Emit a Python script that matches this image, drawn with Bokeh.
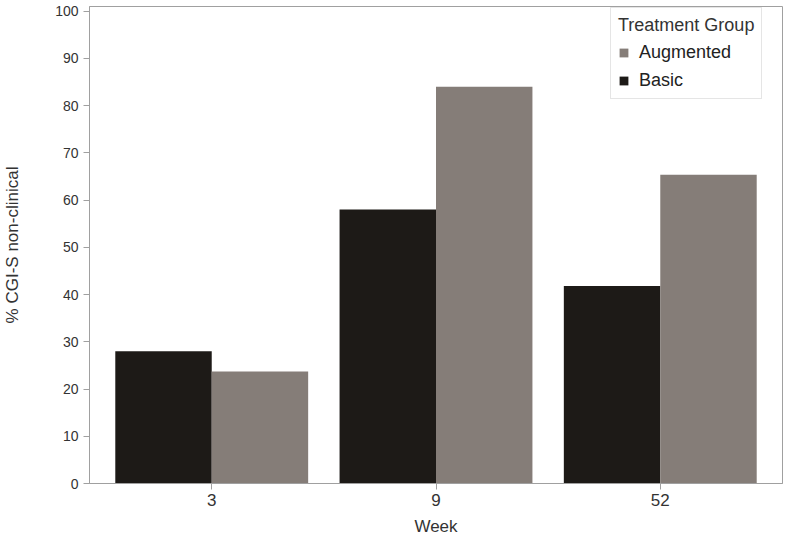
from bokeh.plotting import figure
from bokeh.models import ColumnDataSource, FactorRange, Range1d, Legend, LegendItem, FixedTicker
from bokeh.transform import dodge
from bokeh.embed import file_html
from bokeh.resources import INLINE

weeks = ["3", "9", "52"]
basic = [28.0, 58.0, 41.8]
augmented = [23.7, 84.0, 65.4]
y_ticks = [0, 10, 20, 30, 40, 50, 60, 70, 80, 90, 100]

src = ColumnDataSource(dict(week=weeks, basic=basic, augmented=augmented))

p = figure(width=784, height=538, x_range=FactorRange(*weeks, range_padding=0.03),
           y_range=Range1d(0, 101.0), output_backend="svg", toolbar_location=None,
           min_border_left=78, min_border_right=2, min_border_top=6, min_border_bottom=40)

font = "Liberation Sans"
rb = p.vbar(x=dodge("week", -0.215, range=p.x_range), top="basic", width=0.43, source=src,
            fill_color="#1d1a17", line_color=None)
ra = p.vbar(x=dodge("week", 0.215, range=p.x_range), top="augmented", width=0.43, source=src,
            fill_color="#857d78", line_color=None)

p.xgrid.visible = False
p.ygrid.visible = False
p.outline_line_color = "#a0a0a0"
p.outline_line_width = 1

p.yaxis.ticker = FixedTicker(ticks=y_ticks)
for ax in (p.xaxis[0], p.yaxis[0]):
    ax.axis_line_color = "#a0a0a0"
    ax.major_tick_line_color = "#a0a0a0"
    ax.minor_tick_line_color = None
    ax.major_tick_out = 6
    ax.major_tick_in = 0
    ax.major_label_text_font = font
    ax.major_label_text_font_size = "14px"
    ax.major_label_text_color = "#333333"
    ax.axis_label_text_font = font
    ax.axis_label_text_font_size = "17px"
    ax.axis_label_text_font_style = "normal"
    ax.axis_label_text_color = "#333333"
p.xaxis.axis_label = "Week"
p.yaxis.axis_label = "% CGI-S non-clinical"
p.xaxis.major_label_text_font_size = "17px"
p.xaxis.major_label_standoff = 4
p.xaxis.axis_label_standoff = 8
p.yaxis.axis_label_standoff = 30

legend = Legend(items=[LegendItem(label="Augmented", renderers=[ra]),
                       LegendItem(label="Basic", renderers=[rb])],
                title="Treatment Group", location=(521, 384),
                title_text_font=font, title_text_font_size="18px", title_text_font_style="normal",
                title_text_color="#333333",
                label_text_font=font, label_text_font_size="18px", label_text_color="#222222",
                glyph_width=11, glyph_height=11, label_height=20, spacing=7,
                padding=7, margin=0, border_line_color="#cccccc", title_standoff=6,
                label_standoff=10)
p.add_layout(legend)

open("out.html", "w").write(file_html(p, INLINE))
